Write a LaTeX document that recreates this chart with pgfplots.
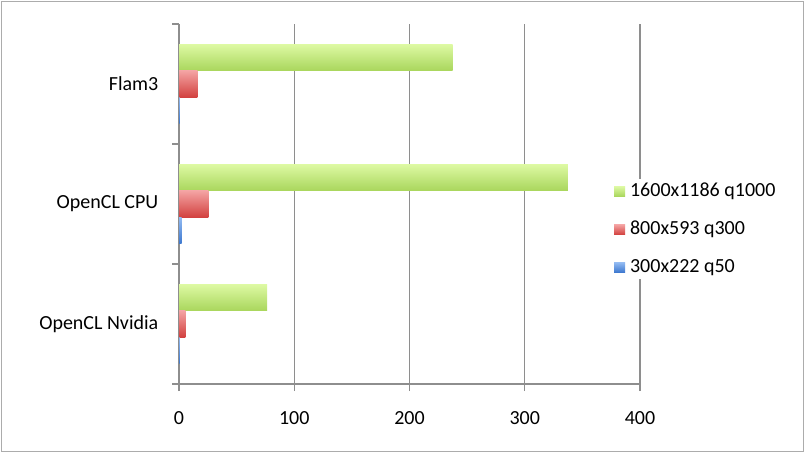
\documentclass[border=0pt]{standalone}
\usepackage{fontspec}
\setmainfont{Carlito}
\usepackage{pgfplots}
\pgfplotsset{compat=1.18}
\definecolor{gridgray}{HTML}{8E8E8E}
\definecolor{gtop}{HTML}{DDF9A3}
\definecolor{gbot}{HTML}{A9D65C}
\definecolor{rtop}{HTML}{F4A3A3}
\definecolor{rbot}{HTML}{D2413F}
\definecolor{btop}{HTML}{93BBF2}
\definecolor{bbot}{HTML}{3D78CF}
\pgfplotsset{
    gbar/.style={draw=none, top color=gtop, bottom color=gbot, bar shift=0.22},
    rbar/.style={draw=none, top color=rtop, bottom color=rbot, bar shift=0},
    bbar/.style={draw=none, top color=btop, bottom color=bbot, bar shift=-0.22},
}
\begin{document}
\fontsize{20pt}{24pt}\selectfont
\begin{tikzpicture}
\useasboundingbox (0,0) rectangle (805pt,453pt);
\draw[draw=gray!65, line width=1.5pt] (1.5pt,1.5pt) rectangle (803.5pt,451.5pt);
\begin{axis}[
    at={(179pt,69pt)}, anchor=south west,
    scale only axis, width=461pt, height=360pt,
    xmin=0, xmax=400, ymin=-0.5, ymax=2.5,
    axis x line=bottom, axis y line=left,
    axis line style={-, draw=gridgray, line width=1.3pt},
    xtick={0,100,200,300,400},
    ytick={-0.5,0.5,1.5,2.5}, yticklabels={},
    extra y ticks={0,1,2},
    extra y tick labels={OpenCL Nvidia, OpenCL CPU, Flam3},
    extra y tick style={tick style={draw=none}},
    tick align=outside, major tick length=7pt,
    tick style={draw=gridgray, line width=1.3pt},
    xmajorgrids, grid style={draw=gridgray, line width=1.3pt},
    /pgf/number format/assume math mode=true,
    tick label style={font=\fontsize{20pt}{24pt}\selectfont},
    xticklabel style={anchor=center, yshift=-27pt},
    yticklabel style={anchor=east, inner sep=0pt, xshift=-13.5pt},
    xbar, bar width=0.22,
    legend style={at={(0.939,0.43)}, anchor=west, draw=none, fill=white,
        inner sep=2pt, row sep=17.5pt,
        font=\fontsize{20pt}{24pt}\selectfont},
    legend cell align=left,
    legend image code/.code={\fill[#1] (0pt,-5pt) rectangle (11pt,5pt);},
    legend style={/tikz/every even column/.append style={column sep=0pt}},
    legend style={nodes={inner xsep=5pt}},
]
% series 1600x1186 q1000
\addplot[gbar] coordinates {(237.5,2)};
\addlegendentry{1600x1186 q1000}
\addplot[gbar, forget plot] coordinates {(337.5,1)};
\addplot[gbar, forget plot] coordinates {(76.5,0)};
% series 800x593 q300
\addplot[rbar] coordinates {(16,2)};
\addlegendentry{800x593 q300}
\addplot[rbar, forget plot] coordinates {(25.5,1)};
\addplot[rbar, forget plot] coordinates {(5.5,0)};
% series 300x222 q50
\addplot[bbar] coordinates {(0.6,2)};
\addlegendentry{300x222 q50}
\addplot[bbar, forget plot] coordinates {(2.3,1)};
\addplot[bbar, forget plot] coordinates {(0.5,0)};
\end{axis}
\end{tikzpicture}
\end{document}
